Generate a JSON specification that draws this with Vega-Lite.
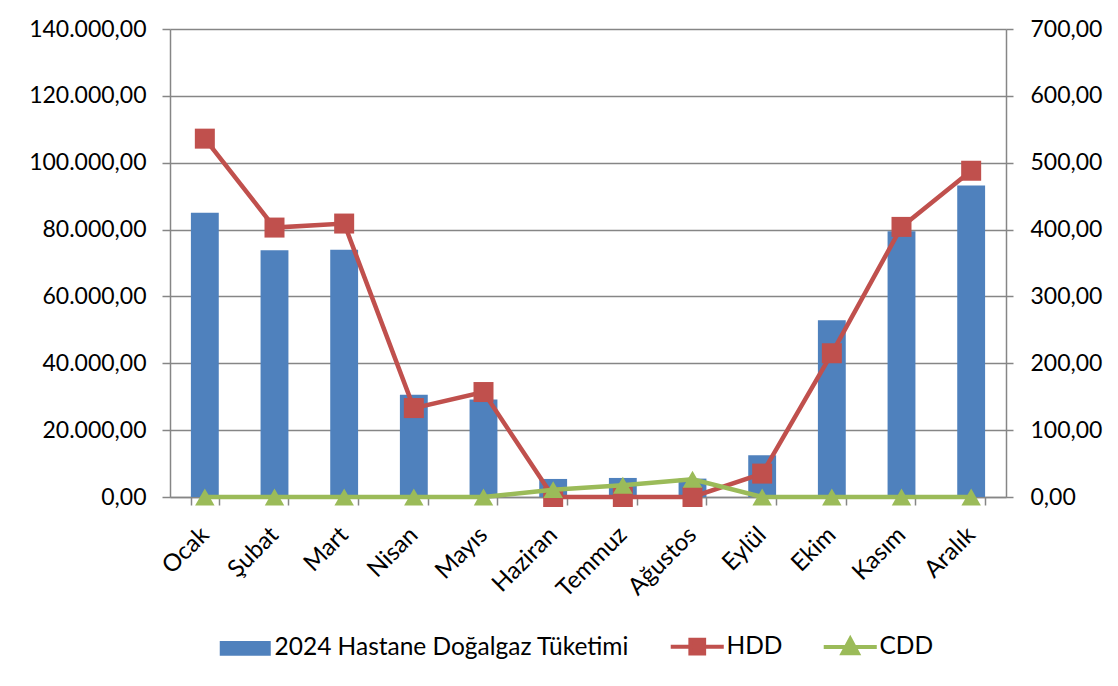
{
  "$schema": "https://vega.github.io/schema/vega-lite/v6.json",
  "width": 836,
  "height": 468,
  "autosize": {"type": "none"},
  "padding": {"left": 170, "top": 29, "right": 112, "bottom": 189},
  "background": "white",
  "config": {
    "font": "Lato",
    "view": {"stroke": null},
    "axis": {"labelFont": "Lato", "labelFontSize": 23, "labelColor": "#000000", "domainColor": "#868686", "tickColor": "#868686", "gridColor": "#868686", "domainWidth": 1.5, "tickWidth": 1.5, "gridWidth": 1.3}
  },
  "data": {
    "values": [
      {"month": "Ocak", "gas": 85000, "HDD": 536, "CDD": 0},
      {"month": "Şubat", "gas": 73800, "HDD": 403, "CDD": 0},
      {"month": "Mart", "gas": 74000, "HDD": 409, "CDD": 0},
      {"month": "Nisan", "gas": 30600, "HDD": 133, "CDD": 0},
      {"month": "Mayıs", "gas": 29200, "HDD": 157, "CDD": 0},
      {"month": "Haziran", "gas": 5400, "HDD": 0, "CDD": 11},
      {"month": "Temmuz", "gas": 5700, "HDD": 0, "CDD": 17.5},
      {"month": "Ağustos", "gas": 5500, "HDD": 0, "CDD": 26.5},
      {"month": "Eylül", "gas": 12500, "HDD": 35, "CDD": 0},
      {"month": "Ekim", "gas": 52900, "HDD": 215, "CDD": 0},
      {"month": "Kasım", "gas": 79500, "HDD": 404, "CDD": 0},
      {"month": "Aralık", "gas": 93200, "HDD": 488, "CDD": 0}
    ]
  },
  "encoding": {
    "x": {
      "field": "month", "type": "nominal", "sort": null,
      "scale": {"paddingInner": 0.6, "paddingOuter": 0.3},
      "axis": {"title": null, "labelAngle": -45, "labelAlign": "right", "labelBaseline": "middle", "labelFontSize": 24, "tickBand": "extent", "tickSize": 8, "labelPadding": 26, "domainColor": "#868686"}
    }
  },
  "layer": [
    {
      "mark": {"type": "bar", "color": "#4F81BD"},
      "encoding": {
        "y": {
          "field": "gas", "type": "quantitative",
          "scale": {"domain": [0, 140000], "nice": false},
          "axis": {"title": null, "orient": "left", "values": [0, 20000, 40000, 60000, 80000, 100000, 120000, 140000], "labelExpr": "replace(format(datum.value, ','), ',', '.') + ',00'", "tickSize": 8, "labelPadding": 16, "grid": true}
        },
        "color": {"datum": "2024 Hastane Doğalgaz Tüketimi", "type": "nominal",
          "scale": {"domain": ["2024 Hastane Doğalgaz Tüketimi", "HDD", "CDD"], "range": ["#4F81BD", "#C0504D", "#9BBB59"]},
          "legend": {
            "title": null, "orient": "none", "legendX": 63, "legendY": 605, "direction": "horizontal", "columns": 3,
            "labelFont": "Lato", "labelFontSize": 24.5, "labelColor": "#000000", "labelOffset": 17, "labelLimit": 800, "columnPadding": 32,
            "symbolSize": 2601, "symbolStrokeWidth": 4,
            "encode": {
              "symbols": {
                "update": {
                  "shape": {"signal": "datum.value === 'HDD' ? 'M-1.04,0H1.04M-0.27,-0.27H0.27V0.27H-0.27Z' : datum.value === 'CDD' ? 'M-1.04,0H1.04M0,-0.32L0.3,0.24L-0.3,0.24Z' : 'M-1,-0.29H1V0.29H-1Z'"},
                  "strokeWidth": {"signal": "datum.value === 'HDD' || datum.value === 'CDD' ? 4 : 0"}
                }
              }
            }
          }
        }
      }
    },
    {
      "layer": [
        {
          "mark": {"type": "line", "strokeWidth": 4.5, "point": {"shape": "square", "size": 400, "filled": true, "opacity": 1}},
          "encoding": {
            "y": {
              "field": "HDD", "type": "quantitative",
              "scale": {"domain": [0, 700], "nice": false},
              "axis": {"title": null, "orient": "right", "values": [0, 100, 200, 300, 400, 500, 600, 700], "labelExpr": "format(datum.value, 'd') + ',00'", "tickSize": 7, "labelPadding": 17, "grid": false}
            },
            "color": {"datum": "HDD", "type": "nominal"}
          }
        },
        {
          "mark": {"type": "line", "strokeWidth": 4.5, "point": {"shape": "triangle-up", "size": 380, "filled": true, "opacity": 1}},
          "encoding": {
            "y": {"field": "CDD", "type": "quantitative", "scale": {"domain": [0, 700], "nice": false}},
            "color": {"datum": "CDD", "type": "nominal"}
          }
        }
      ]
    }
  ],
  "resolve": {"scale": {"y": "independent"}}
}
